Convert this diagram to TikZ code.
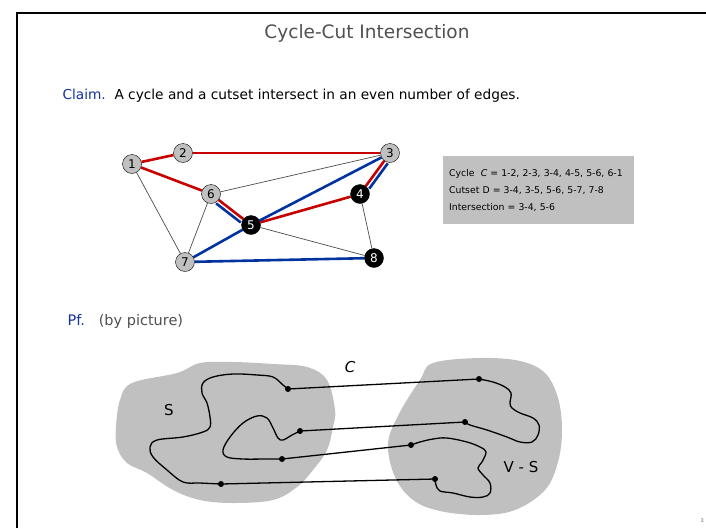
\documentclass[tikz,border=0pt]{standalone}
\usepackage{fontspec}
\setmainfont{DejaVu Sans}
\usepackage{xcolor}
\usetikzlibrary{backgrounds, positioning}
\definecolor{cyclered}{RGB}{200,0,0}
\definecolor{cutblue}{RGB}{0,51,160}
\definecolor{blobgray}{RGB}{192,192,192}
\definecolor{titlegray}{RGB}{80,80,80}
\definecolor{claimblue}{RGB}{20,50,160}

\begin{document}
\begin{tikzpicture}[
    x=1pt, y=-1pt,
    vert/.style={circle, draw, fill=blobgray, minimum size=19pt, inner sep=0pt, font=\fontsize{12}{12}\selectfont},
    cutvert/.style={vert, fill=black, text=white},
    plainedge/.style={draw=black!70, line width=0.7pt},
    cycleedge/.style={draw=cyclered, line width=2.6pt},
    cutedge/.style={draw=cutblue, line width=2.6pt},
    dot/.style={circle, fill=black, inner sep=0pt, minimum size=6pt},
    loopline/.style={line width=1.3pt, line join=round},
    infobox/.style={fill=blobgray, anchor=north west, inner xsep=6pt, text width=179pt, minimum height=68pt, align=left, font=\fontsize{9.3}{17}\selectfont}
  ]
  \useasboundingbox (0,0) rectangle (706,528);
  \draw[line width=2.5pt] (17,528) -- (17,13) -- (706,13);

  \node[text=titlegray, font=\fontsize{18.5}{20}\selectfont] (title) at (367,33) {Cycle-Cut Intersection};
  \node[anchor=west, font=\fontsize{13.7}{16}\selectfont] (claim) at (59,96)
    {\textcolor{claimblue}{Claim.}\ \ A cycle and a cutset intersect in an even number of edges.};

  \node[vert] (v1) at (132,164) {1};
  \node[vert] (v2) at (183,153) {2};
  \node[vert] (v3) at (390,153) {3};
  \node[cutvert] (v4) at (360,194) {4};
  \node[cutvert] (v5) at (251,225) {5};
  \node[vert] (v6) at (211,194) {6};
  \node[vert] (v7) at (185,262) {7};
  \node[cutvert] (v8) at (374,258) {8};

  \begin{scope}[on background layer]
    \draw[plainedge] (v1) -- (v7);
    \draw[plainedge] (v6) -- (v7);
    \draw[plainedge] (v6) -- (v3);
    \draw[plainedge] (v4) -- (v8);
    \draw[plainedge] (v5) -- (v8);
    \draw[cycleedge] (v1) -- (v2);
    \draw[cycleedge] (v2) -- (v3);
    \draw[cycleedge] (v1) -- (v6);
    \draw[cycleedge] (v6) -- (v5);
    \draw[cycleedge] (v5) -- (v4);
    \draw[cycleedge] (v4) -- (v3);
    \draw[cutedge] (v3) -- (v5);
    \draw[cutedge] (v5) -- (v7);
    \draw[cutedge] (v7) -- (v8);
    \draw[cutedge, transform canvas={shift={(-2.6,3.4)}}] (v6) -- (v5);
    \draw[cutedge, transform canvas={shift={(3.5,2.5)}}] (v3) -- (v4);
  \end{scope}

  \node[infobox] (info) at (443,156)
    {Cycle\ \ \textit{C} = 1-2, 2-3, 3-4, 4-5, 5-6, 6-1\\
     Cutset D = 3-4, 3-5, 5-6, 5-7, 7-8\\
     Intersection = 3-4, 5-6};

  \node[anchor=west, font=\fontsize{14.5}{16}\selectfont] (proof) at (64,321)
    {\textcolor{claimblue}{Pf.}\ \ \ \textcolor{titlegray}{(by\ picture)}};

  \fill[blobgray] plot[smooth cycle, tension=0.6] coordinates {(132,383) (177,373) (200,363) (233,362) (273,364) (307,367) (327,380) (335,410) (333,427) (327,450) (313,470) (297,487) (273,500) (233,503) (200,500) (173,490) (147,473) (127,463) (117,447) (116,427) (120,400)};
  \fill[blobgray] plot[smooth cycle, tension=0.6] coordinates {(433,363) (480,358) (520,361) (545,373) (558,398) (562,430) (558,462) (545,490) (515,510) (480,515) (440,511) (413,500) (395,477) (388,443) (400,412) (420,380)};

  \node (setS) at (169,410) {\fontsize{15}{17}\selectfont S};
  \node (setVS) at (521,467) {\fontsize{15}{17}\selectfont V - S};
  \node (cyc) at (350,367) {\fontsize{15}{17}\selectfont\itshape C};

  \node[dot] (s1) at (288,389) {};
  \node[dot] (s2) at (300,431) {};
  \node[dot] (s3) at (282,459) {};
  \node[dot] (s4) at (221,484) {};
  \node[dot] (t1) at (479,379) {};
  \node[dot] (t2) at (465,422) {};
  \node[dot] (t3) at (411,445) {};
  \node[dot] (t4) at (435,479) {};

  \draw[loopline] (s1) -- (t1);
  \draw[loopline] (s2) -- (t2);
  \draw[loopline] (s3) -- (t3);
  \draw[loopline] (s4) -- (t4);

  \draw[loopline] plot[smooth, tension=0.6] coordinates {(s1) (283,385) (273,377) (257,375) (233,374) (213,377) (203,383) (202,393) (207,403) (210,417) (210,427) (203,432) (183,437) (157,440) (150,447) (153,457) (167,470) (183,482) (200,483) (s4)};
  \draw[loopline] plot[smooth, tension=0.6] coordinates {(s2) (292,435) (283,440) (278,438) (273,428) (267,418) (257,416) (243,423) (230,437) (223,450) (227,457) (243,459) (267,459) (s3)};
  \draw[loopline] plot[smooth, tension=0.6] coordinates {(t1) (493,382) (505,387) (511,393) (510,403) (512,408) (520,413) (533,418) (539,425) (538,435) (532,442) (520,442) (507,437) (487,430) (470,425) (t2)};
  \draw[loopline] plot[smooth, tension=0.6] coordinates {(t3) (420,442) (433,439) (447,438) (467,442) (480,447) (486,452) (482,462) (478,468) (483,475) (490,483) (490,493) (483,497) (470,497) (453,493) (440,491) (436,485) (t4)};

  \node[anchor=east, text=black!60, font=\fontsize{5}{5}\selectfont, inner sep=1pt] (pageno) at (705,521) {3};
\end{tikzpicture}
\end{document}
